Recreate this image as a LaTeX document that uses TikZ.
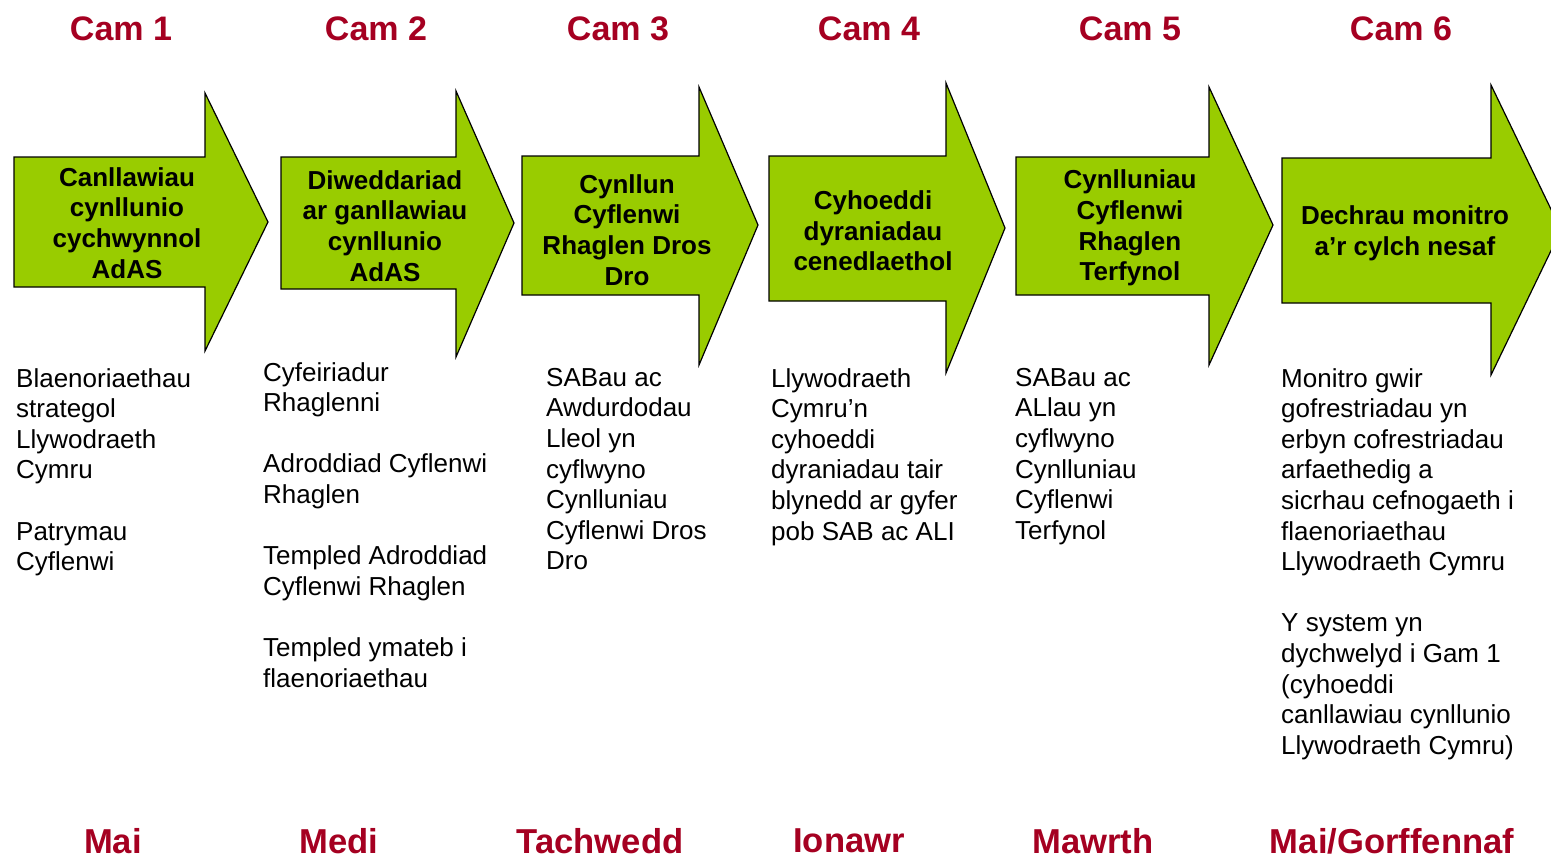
\documentclass[tikz,border=0pt]{standalone}
\usepackage{fontspec}
\setmainfont{Liberation Sans}
\definecolor{camred}{HTML}{A50021}
\definecolor{arrowgreen}{HTML}{99CC00}
\begin{document}
\begin{tikzpicture}[x=1pt,y=-1pt,
  bigarrow/.style={draw=black,fill=arrowgreen,line width=1.2pt,line join=miter},
  camlabel/.style={text=camred,font=\fontsize{34}{40}\selectfont\bfseries,inner sep=0pt},
  monthlabel/.style={text=camred,font=\fontsize{34.6}{40}\selectfont\bfseries,inner sep=0pt},
  steptext/.style={font=\fontsize{26}{30.7}\selectfont\bfseries,align=center,inner sep=0pt},
  bodytext/.style={font=\fontsize{26}{30.6}\selectfont,align=left,anchor=north west,inner sep=0pt}]
\useasboundingbox (0,0) rectangle (1551,859);
\fill[white] (0,0) rectangle (1551,859);
% arrows: body left, body top, body bottom, head x, head top, head bottom, tip x, tip y
\newcommand{\stagearrow}[8]{%
  \draw[bigarrow] (#1,#2) -- (#4,#2) -- (#4,#5) -- (#7,#8) -- (#4,#6) -- (#4,#3) -- (#1,#3) -- cycle;}
\stagearrow{14}{157}{287}{205}{93}{351}{268}{222}
\stagearrow{281}{157}{289}{456}{91}{357}{514}{223}
\stagearrow{522}{156}{295}{699}{87}{365}{758}{225}
\stagearrow{769}{156}{301}{946}{83}{373}{1005}{228}
\stagearrow{1016}{157}{295}{1209}{87}{365}{1273}{225}
\stagearrow{1282}{158}{303}{1491}{85}{375}{1561}{230}

% headers
\node[camlabel] (c1) at (121,29) {Cam 1};
\node[camlabel] (c2) at (376,29) {Cam 2};
\node[camlabel] (c3) at (618,29) {Cam 3};
\node[camlabel] (c4) at (869,29) {Cam 4};
\node[camlabel] (c5) at (1130,29) {Cam 5};
\node[camlabel] (c6) at (1401,29) {Cam 6};

% arrow texts
\node[steptext] (s1) at (127,223) {Canllawiau\\cynllunio\\cychwynnol\\AdAS};
\node[steptext] (s2) at (385,226) {Diweddariad\\ar ganllawiau\\cynllunio\\AdAS};
\node[steptext] (s3) at (627,230) {Cynllun\\Cyflenwi\\Rhaglen Dros\\Dro};
\node[steptext] (s4) at (873,231) {Cyhoeddi\\dyraniadau\\cenedlaethol};
\node[steptext] (s5) at (1130,228) {Cynlluniau\\Cyflenwi\\Rhaglen\\Terfynol};
\node[steptext] (s6) at (1405,233) {Dechrau monitro\\a’r cylch nesaf};

% body texts
\node[bodytext] (b1) at (16,368) {Blaenoriaethau\\strategol\\Llywodraeth\\Cymru\\[30.6pt]Patrymau\\Cyflenwi};
\node[bodytext] (b2) at (263,362) {Cyfeiriadur\\Rhaglenni\\[30.6pt]Adroddiad Cyflenwi\\Rhaglen\\[30.6pt]Templed Adroddiad\\Cyflenwi Rhaglen\\[30.6pt]Templed ymateb i\\flaenoriaethau};
\node[bodytext] (b3) at (546,368) {SABau ac\\Awdurdodau\\Lleol yn\\cyflwyno\\Cynlluniau\\Cyflenwi Dros\\Dro};
\node[bodytext] (b4) at (771,368) {Llywodraeth\\Cymru’n\\cyhoeddi\\dyraniadau tair\\blynedd ar gyfer\\pob SAB ac ALI};
\node[bodytext] (b5) at (1015,368) {SABau ac\\ALlau yn\\cyflwyno\\Cynlluniau\\Cyflenwi\\Terfynol};
\node[bodytext] (b6) at (1281,368) {Monitro gwir\\gofrestriadau yn\\erbyn cofrestriadau\\arfaethedig a\\sicrhau cefnogaeth i\\flaenoriaethau\\Llywodraeth Cymru\\[30.6pt]Y system yn\\dychwelyd i Gam 1\\(cyhoeddi\\canllawiau cynllunio\\Llywodraeth Cymru)};

% months
\node[monthlabel] (m1) at (113,841) {Mai};
\node[monthlabel] (m2) at (339,841) {Medi};
\node[monthlabel] (m3) at (600,841) {Tachwedd};
\node[monthlabel] (m4) at (849,841) {Ionawr};
\node[monthlabel] (m5) at (1093,841) {Mawrth};
\node[monthlabel] (m6) at (1392,841) {Mai/Gorffennaf};
\end{tikzpicture}
\end{document}
